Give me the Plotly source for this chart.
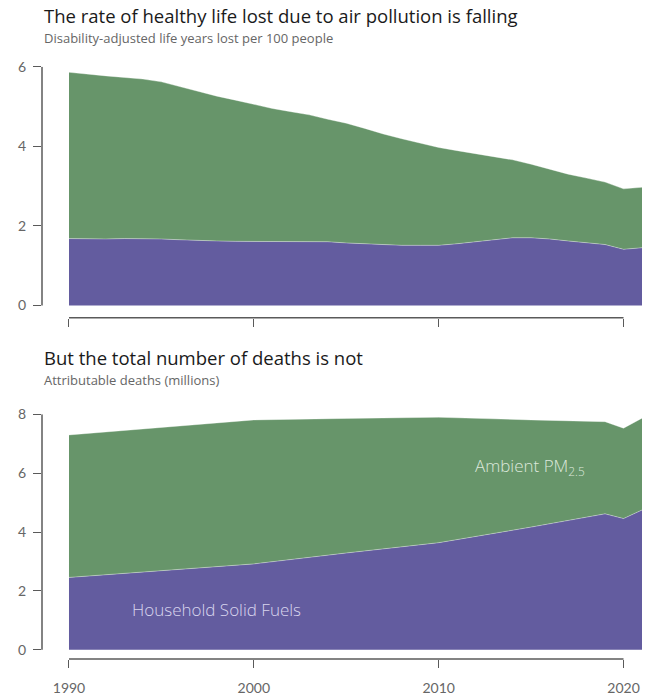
import plotly.graph_objects as go

# ---- data ----
years_rate = list(range(1990, 2022))
household_rate = [1.68, 1.67, 1.67, 1.68, 1.68, 1.67, 1.65, 1.63, 1.62, 1.61,
                  1.61, 1.61, 1.61, 1.61, 1.60, 1.57, 1.55, 1.52, 1.51, 1.51,
                  1.51, 1.55, 1.60, 1.66, 1.70, 1.70, 1.67, 1.62, 1.58, 1.53,
                  1.41, 1.45]
total_rate = [5.86, 5.81, 5.77, 5.73, 5.69, 5.62, 5.50, 5.37, 5.26, 5.16,
              5.06, 4.95, 4.87, 4.79, 4.68, 4.58, 4.45, 4.31, 4.19, 4.08,
              3.97, 3.89, 3.81, 3.74, 3.66, 3.55, 3.42, 3.30, 3.20, 3.10,
              2.93, 2.97]
ambient_rate = [round(t - h, 2) for t, h in zip(total_rate, household_rate)]

years_deaths = [1990, 1995, 2000, 2005, 2010, 2015, 2019, 2020, 2021]
household_deaths = [2.46, 2.69, 2.92, 3.29, 3.64, 4.17, 4.62, 4.46, 4.75]
total_deaths = [7.30, 7.56, 7.81, 7.86, 7.90, 7.81, 7.75, 7.53, 7.87]
ambient_deaths = [round(t - h, 2) for t, h in zip(total_deaths, household_deaths)]

x_ticks = [1990, 2000, 2010, 2020]
y_ticks_rate = [0, 2, 4, 6]
y_ticks_deaths = [0, 2, 4, 6, 8]

title_top = "The rate of healthy life lost due to air pollution is falling"
sub_top = "Disability-adjusted life years lost per 100 people"
title_bot = "But the total number of deaths is not"
sub_bot = "Attributable deaths (millions)"
label_household = "Household Solid Fuels"
label_ambient = "Ambient PM<sub>2.5</sub>"

# ---- style ----
GREEN = "#67956A"
PURPLE = "#635C9F"
AXIS = "#5a5a5a"
FONT = "Lato"
TFONT = "Open Sans"
EDGE = dict(width=1, color="rgba(255,255,255,0.35)")

fig = go.Figure()

fig.add_trace(go.Scatter(x=years_rate, y=household_rate, stackgroup="a",
                         mode="lines", line=EDGE, fillcolor=PURPLE,
                         xaxis="x", yaxis="y", hoverinfo="skip"))
fig.add_trace(go.Scatter(x=years_rate, y=ambient_rate, stackgroup="a",
                         mode="lines", line=EDGE, fillcolor=GREEN,
                         xaxis="x", yaxis="y", hoverinfo="skip"))
fig.add_trace(go.Scatter(x=years_deaths, y=household_deaths, stackgroup="b",
                         mode="lines", line=EDGE, fillcolor=PURPLE,
                         xaxis="x2", yaxis="y2", hoverinfo="skip"))
fig.add_trace(go.Scatter(x=years_deaths, y=ambient_deaths, stackgroup="b",
                         mode="lines", line=EDGE, fillcolor=GREEN,
                         xaxis="x2", yaxis="y2", hoverinfo="skip"))

x_range = [1988.54, 2021]
tickfont = dict(family=FONT, size=14, color="#666666")

common_x = dict(range=x_range, tickvals=x_ticks, ticks="outside", ticklen=8,
                tickwidth=1.3, tickcolor=AXIS, showline=False, showgrid=False,
                zeroline=False, tickfont=tickfont, fixedrange=True,
                automargin=False)
common_y = dict(ticks="outside", ticklen=8, tickwidth=1.3, tickcolor=AXIS,
                showline=False, showgrid=False, zeroline=False,
                tickfont=tickfont, ticklabelstandoff=4, fixedrange=True,
                automargin=False)

fig.update_layout(
    width=654, height=698,
    margin=dict(l=42, r=12, t=0, b=0),
    paper_bgcolor="white", plot_bgcolor="white",
    showlegend=False,
    font=dict(family=FONT),
    xaxis=dict(**common_x, domain=[0, 1], anchor="y", showticklabels=False),
    yaxis=dict(**common_y, domain=[0.5448, 0.9044], anchor="x",
               range=[-0.31, y_ticks_rate[-1]], tickvals=y_ticks_rate),
    xaxis2=dict(**common_x, domain=[0, 1], anchor="y2", showticklabels=True,
                ticklabelstandoff=8),
    yaxis2=dict(**common_y, domain=[0.0559, 0.4064], anchor="x2",
                range=[-0.31, y_ticks_deaths[-1]], tickvals=y_ticks_deaths),
)

# range-frame axis lines
shapes = []
for xa, ya, yt in [("x", "y", y_ticks_rate), ("x2", "y2", y_ticks_deaths)]:
    shapes.append(dict(type="line", xref=f"{xa} domain", yref=ya,
                       x0=0, x1=0, y0=yt[0], y1=yt[-1],
                       line=dict(color=AXIS, width=1.5)))
    shapes.append(dict(type="line", xref=xa, yref=f"{ya} domain",
                       x0=x_ticks[0], x1=x_ticks[-1], y0=0, y1=0,
                       line=dict(color=AXIS, width=1.5)))
fig.update_layout(shapes=shapes)

ann = []
ann.append(dict(text=title_top, xref="paper", yref="paper", x=0, y=0.9785,
                xanchor="left", yanchor="middle", showarrow=False,
                font=dict(family=TFONT, size=18.5, color="#1a1a1a")))
ann.append(dict(text=sub_top, xref="paper", yref="paper", x=0, y=0.9456,
                xanchor="left", yanchor="middle", showarrow=False,
                font=dict(family=TFONT, size=13, color="#666666")))
ann.append(dict(text=title_bot, xref="paper", yref="paper", x=0, y=0.4878,
                xanchor="left", yanchor="middle", showarrow=False,
                font=dict(family=TFONT, size=18.5, color="#1a1a1a")))
ann.append(dict(text=sub_bot, xref="paper", yref="paper", x=0, y=0.4549,
                xanchor="left", yanchor="middle", showarrow=False,
                font=dict(family=TFONT, size=13, color="#666666")))
ann.append(dict(text=label_household, xref="x2", yref="y2", x=1993.3, y=1.36,
                xanchor="left", yanchor="middle", showarrow=False,
                font=dict(family=TFONT, size=17, color="#d9d6ee", weight=300)))
ann.append(dict(text=label_ambient, xref="x2", yref="y2", x=2011.85, y=6.22,
                xanchor="left", yanchor="middle", showarrow=False,
                font=dict(family=TFONT, size=17, color="#dde8dc", weight=300)))
fig.update_layout(annotations=ann)

fig.write_html("out.html",
               config={"displayModeBar": False},
               post_script="document.body.style.margin='0';"
                           "document.body.style.overflow='hidden';")
